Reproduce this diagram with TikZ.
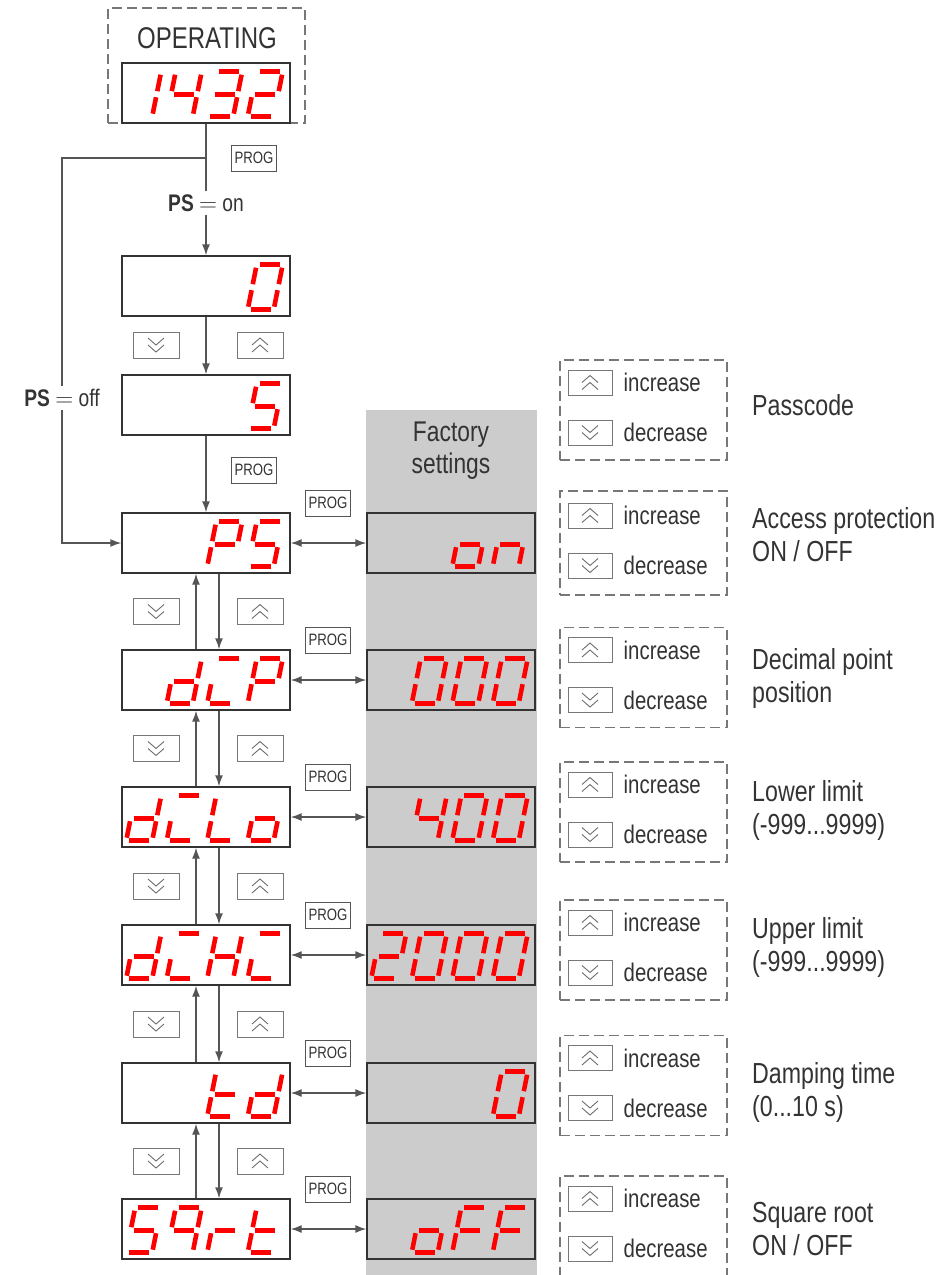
\documentclass[tikz,border=0pt]{standalone}
\usepackage{fontspec}
\setmainfont{Liberation Sans}[FakeStretch=0.8]
\usepackage{tikz}
\usetikzlibrary{calc, positioning, arrows.meta}
\definecolor{segred}{RGB}{255,0,0}
\definecolor{ink}{RGB}{51,51,51}
\definecolor{wire}{RGB}{85,85,85}
\definecolor{panel}{RGB}{204,204,204}
\tikzset{
disp/.style={draw=ink, line width=1.4pt, fill=white, minimum width=168pt, minimum height=60pt, inner sep=0pt},
fdisp/.style={disp, fill=panel},
keybtn/.style={draw=wire!80, line width=1pt, fill=white, minimum width=46pt, minimum height=26pt, inner sep=0pt},
progbtn/.style={draw=wire, line width=1pt, fill=white, text=ink, font=\fontsize{16.5}{16.5}\selectfont, minimum width=45pt, minimum height=26pt, inner sep=0pt},
chev/.style={wire!85, line width=0.9pt},
seg/.style={segred, line width=4.6pt},
link/.style={wire, line width=1.4pt},
arr/.style={link, -{Latex[length=11pt, width=8pt]}},
twoway/.style={link, {Latex[length=11pt, width=8pt]}-{Latex[length=11pt, width=8pt]}},
dashbox/.style={draw=wire!80, dash pattern=on 10pt off 5pt, line width=1.2pt, inner sep=0pt},
infotext/.style={text=ink, font=\fontsize{29}{33}\selectfont, align=left, anchor=west, inner sep=0pt},
keytext/.style={text=ink, font=\fontsize{25.5}{25.5}\selectfont, inner sep=0pt}
}
% seven segments, local frame: y up, 26 wide, 45 high
\newcommand{\sga}{\draw[seg] (3,45) -- (23,45);}
\newcommand{\sgb}{\draw[seg] (26,42) -- (26,25.5);}
\newcommand{\sgc}{\draw[seg] (26,19.5) -- (26,3);}
\newcommand{\sgd}{\draw[seg] (3,0) -- (23,0);}
\newcommand{\sge}{\draw[seg] (0,19.5) -- (0,3);}
\newcommand{\sgf}{\draw[seg] (0,42) -- (0,25.5);}
\newcommand{\sgg}{\draw[seg] (3,22.5) -- (23,22.5);}
\newcommand{\chzero}{\sga\sgb\sgc\sgd\sge\sgf}
\newcommand{\chone}{\sgb\sgc}
\newcommand{\chtwo}{\sga\sgb\sgg\sge\sgd}
\newcommand{\chthree}{\sga\sgb\sgg\sgc\sgd}
\newcommand{\chfour}{\sgf\sgg\sgb\sgc}
\newcommand{\chfive}{\sga\sgf\sgg\sgc\sgd}
\newcommand{\chq}{\sga\sgb\sgc\sgf\sgg}
\newcommand{\chP}{\sga\sgb\sge\sgf\sgg}
\newcommand{\chd}{\sgb\sgc\sgd\sge\sgg}
\newcommand{\chL}{\sgd\sge\sgf}
\newcommand{\cho}{\sgc\sgd\sge\sgg}
\newcommand{\chn}{\sgc\sge\sgg}
\newcommand{\chF}{\sga\sge\sgf\sgg}
\newcommand{\chH}{\sgb\sgc\sge\sgf\sgg}
\newcommand{\chr}{\sge\sgg}
\newcommand{\cht}{\sgd\sge\sgf\sgg}
\newcommand{\chbar}{\sga\sgd\sge}
% character #3 at place #2 (1..4) of display #1
\newcommand{\dispchar}[3]{%
  \begin{scope}[shift={(#1.south east)}, xshift={(-43-40.5*(4-#2))*1pt}, yshift=7pt, x=1pt, y=1pt, xslant=0.2]
    #3
  \end{scope}}
\newcommand{\chevdown}[1]{\draw[chev, shift={(#1.center)}] (-8,-7) -- (0,0) -- (8,-7) (-8,0) -- (0,7) -- (8,0);}
\newcommand{\chevup}[1]{\draw[chev, shift={(#1.center)}] (-8,7) -- (0,0) -- (8,7) (-8,0) -- (0,-7) -- (8,0);}
% up/down keys inside a dashed box
\newcommand{\keypair}[1]{%
  \node[keybtn, minimum width=44pt, minimum height=25pt] (#1up) at ($(#1.center)+(-53.5,-27.5)$) {};
  \node[keybtn, minimum width=44pt, minimum height=25pt] (#1dn) at ($(#1.center)+(-53.5,22.5)$) {};
  \chevup{#1up}\chevdown{#1dn}
  \node[keytext, right=11pt of #1up] (#1inc) {increase};
  \node[keytext, right=11pt of #1dn] (#1dec) {decrease};}
% keys and arrows between two menu displays
\newcommand{\rowkeys}[3]{%
  \node[keybtn] (#3dn) at ($(#1.south)!.5!(#2.north)+(-50,0)$) {};
  \node[keybtn] (#3up) at ($(#1.south)!.5!(#2.north)+(54,0)$) {};
  \chevdown{#3dn}\chevup{#3up}
  \draw[arr] ([xshift=-10pt]#2.north) -- ([xshift=-10pt]#1.south);
  \draw[arr] ([xshift=13pt]#1.south) -- ([xshift=13pt]#2.north);}

\begin{document}
\begin{tikzpicture}[x=1pt, y=-1pt]
\useasboundingbox (0,0) rectangle (947,1275);
% ---- factory column
\node[fill=panel, minimum width=171pt, minimum height=870pt, inner sep=0pt] (fcol) at (451.5,845) {};
\node[text=ink, font=\fontsize{28.5}{32}\selectfont, align=center] (ftitle) at (451,451) {Factory\\settings};
% ---- operating
\node[dashbox, minimum width=197pt, minimum height=115pt] (opframe) at (206.5,65.5) {};
\node[text=ink, font=\fontsize{30}{30}\selectfont] (optitle) at (207,38) {OPERATING};
\node[disp] (dop) at (206,93) {};
\dispchar{dop}{1}{\chone}\dispchar{dop}{2}{\chfour}\dispchar{dop}{3}{\chthree}\dispchar{dop}{4}{\chtwo}
\node[progbtn] (prog1) at (254,158) {PROG};
\coordinate (split) at (206,158);
\node[text=ink, font=\fontsize{24}{24}\selectfont] (pson) at (206,203) {\textbf{PS} $=$ on};
\node[text=ink, font=\fontsize{24}{24}\selectfont] (psoff) at (62,398) {\textbf{PS} $=$ off};
% ---- passcode
\node[disp] (dzero) at (206,286) {};
\dispchar{dzero}{4}{\chzero}
\node[disp] (dfive) at (206,405) {};
\dispchar{dfive}{4}{\chfive}
\node[keybtn] (zdn) at (156,345) {};
\node[keybtn] (zup) at (260,345) {};
\chevdown{zdn}\chevup{zup}
\node[progbtn] (prog2) at (254,470) {PROG};
% ---- menu
\node[disp] (dps) at (206,543) {};
\dispchar{dps}{3}{\chP}\dispchar{dps}{4}{\chfive}
\node[disp] (ddp) at (206,680) {};
\dispchar{ddp}{2}{\chd}\dispchar{ddp}{3}{\chbar}\dispchar{ddp}{4}{\chP}
\node[disp] (dlo) at (206,817) {};
\dispchar{dlo}{1}{\chd}\dispchar{dlo}{2}{\chbar}\dispchar{dlo}{3}{\chL}\dispchar{dlo}{4}{\cho}
\node[disp] (dhi) at (206,955) {};
\dispchar{dhi}{1}{\chd}\dispchar{dhi}{2}{\chbar}\dispchar{dhi}{3}{\chH}\dispchar{dhi}{4}{\chbar}
\node[disp] (dtd) at (206,1093) {};
\dispchar{dtd}{3}{\cht}\dispchar{dtd}{4}{\chd}
\node[disp] (dsq) at (206,1229) {};
\dispchar{dsq}{1}{\chfive}\dispchar{dsq}{2}{\chq}\dispchar{dsq}{3}{\chr}\dispchar{dsq}{4}{\cht}
% ---- factory values
\node[fdisp] (fps) at (451,543) {};
\dispchar{fps}{3}{\cho}\dispchar{fps}{4}{\chn}
\node[fdisp] (fdp) at (451,680) {};
\dispchar{fdp}{2}{\chzero}\dispchar{fdp}{3}{\chzero}\dispchar{fdp}{4}{\chzero}
\node[fdisp] (flo) at (451,817) {};
\dispchar{flo}{2}{\chfour}\dispchar{flo}{3}{\chzero}\dispchar{flo}{4}{\chzero}
\node[fdisp] (fhi) at (451,955) {};
\dispchar{fhi}{1}{\chtwo}\dispchar{fhi}{2}{\chzero}\dispchar{fhi}{3}{\chzero}\dispchar{fhi}{4}{\chzero}
\node[fdisp] (ftd) at (451,1093) {};
\dispchar{ftd}{4}{\chzero}
\node[fdisp] (fsq) at (451,1229) {};
\dispchar{fsq}{2}{\cho}\dispchar{fsq}{3}{\chF}\dispchar{fsq}{4}{\chF}
\node[progbtn] (pps) at (328,503) {PROG};
\node[progbtn] (pdp) at (328,640) {PROG};
\node[progbtn] (plo) at (328,777) {PROG};
\node[progbtn] (phi) at (328,915) {PROG};
\node[progbtn] (ptd) at (328,1053) {PROG};
\node[progbtn] (psq) at (328,1189) {PROG};
% ---- key boxes
\node[dashbox, minimum width=167pt, minimum height=100pt] (kpass) at (643.5,410) {};
\node[dashbox, minimum width=167pt, minimum height=104pt] (kps) at (643.5,543) {};
\node[dashbox, minimum width=167pt, minimum height=100pt] (kdp) at (643.5,677.5) {};
\node[dashbox, minimum width=167pt, minimum height=100pt] (klo) at (643.5,812) {};
\node[dashbox, minimum width=167pt, minimum height=100pt] (khi) at (643.5,950) {};
\node[dashbox, minimum width=167pt, minimum height=100pt] (ktd) at (643.5,1085.5) {};
\node[dashbox, minimum width=167pt, minimum height=100pt] (ksq) at (643.5,1226) {};
\keypair{kpass}\keypair{kps}\keypair{kdp}\keypair{klo}\keypair{khi}\keypair{ktd}\keypair{ksq}
\node[infotext] (lpass) at (752,405) {Passcode};
\node[infotext] (lps) at (752,535) {Access protection\\ON / OFF};
\node[infotext] (ldp) at (752,678) {Decimal point\\position};
\node[infotext] (llo) at (752,810) {Lower limit\\(-999...9999)};
\node[infotext] (lhi) at (752,947) {Upper limit\\(-999...9999)};
\node[infotext] (ltd) at (752,1092) {Damping time\\(0...10 s)};
\node[infotext] (lsq) at (752,1229) {Square root\\ON / OFF};
% ---- connectors
\draw[link] (dop.south) -- (pson.north);
\draw[arr] (pson.south) -- (dzero.north);
\draw[link] (split) -| (psoff.north);
\draw[arr] (psoff.south) |- (dps.west);
\draw[arr] (dzero) -- (dfive);
\draw[arr] (dfive) -- (dps);
\rowkeys{dps}{ddp}{k1}
\rowkeys{ddp}{dlo}{k2}
\rowkeys{dlo}{dhi}{k3}
\rowkeys{dhi}{dtd}{k4}
\rowkeys{dtd}{dsq}{k5}
\draw[twoway] (dps) -- (fps);
\draw[twoway] (ddp) -- (fdp);
\draw[twoway] (dlo) -- (flo);
\draw[twoway] (dhi) -- (fhi);
\draw[twoway] (dtd) -- (ftd);
\draw[twoway] (dsq) -- (fsq);
\end{tikzpicture}
\end{document}
